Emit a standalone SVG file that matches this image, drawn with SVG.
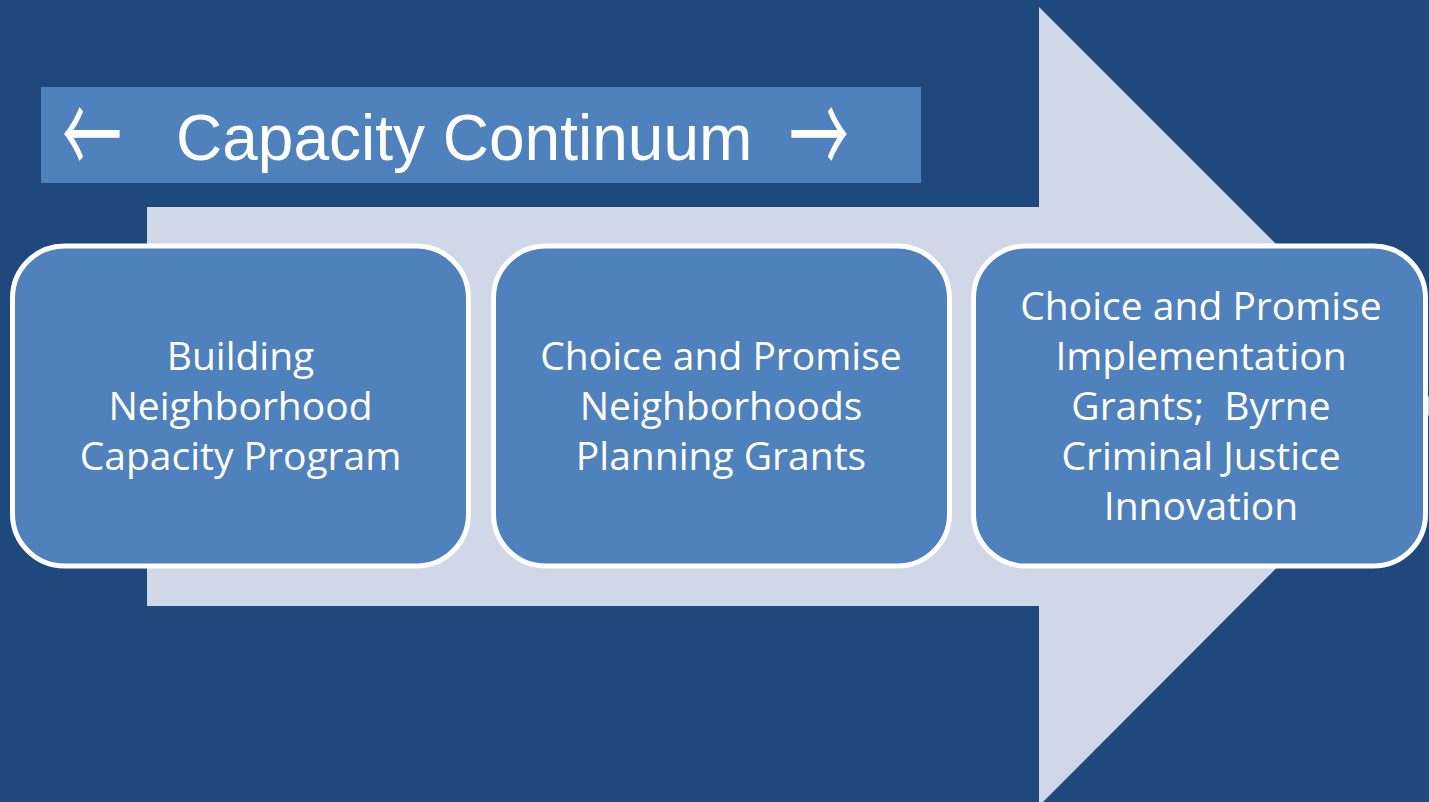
<svg xmlns="http://www.w3.org/2000/svg" width="1429" height="802" viewBox="0 0 1429 802">
<style>
.box{fill:#4F81BD;stroke:#FFFFFF;stroke-width:5}
.lbl{font-family:"Open Sans","Noto Sans",sans-serif;font-size:39px;fill:#FFFFFF;text-anchor:middle;white-space:pre}
.ttl{font-family:"Liberation Sans",Arial,sans-serif;font-size:64px;fill:#FFFFFF}
.arw{font-family:"Noto Sans CJK JP",sans-serif;font-size:60px;fill:#FFFFFF;text-anchor:middle}
</style>
<rect x="0" y="0" width="1429" height="802" fill="#1F497D"/>
<g id="connectors">
<polygon id="big-arrow" points="147,207 1039,207 1039,7 1438,406 1039,806 1039,606 147,606" fill="#D0D8E8"/>
</g>
<g id="title">
<rect x="41" y="87" width="880" height="96" fill="#4F81BD"/>
<g transform="translate(0,135) scale(1,1.9) translate(0,-135)">
<text class="arw" x="92" y="157">←</text>
<text class="arw" x="819" y="157">→</text>
</g>
<text class="ttl" x="176" y="160">Capacity Continuum</text>
</g>
<g id="node1">
<rect class="box" x="12.5" y="246" width="456" height="320" rx="52"/>
<text class="lbl" x="240.5" y="370">Building</text>
<text class="lbl" x="240.5" y="420">Neighborhood</text>
<text class="lbl" x="240.5" y="470">Capacity Program</text>
</g>
<g id="node2">
<rect class="box" x="493.5" y="246" width="456" height="320" rx="52"/>
<text class="lbl" x="721" y="370">Choice and Promise</text>
<text class="lbl" x="721" y="420">Neighborhoods</text>
<text class="lbl" x="721" y="470">Planning Grants</text>
</g>
<g id="node3">
<rect class="box" x="973.5" y="246" width="452" height="320" rx="52"/>
<text class="lbl" x="1201" y="320">Choice and Promise</text>
<text class="lbl" x="1201" y="370">Implementation</text>
<text class="lbl" x="1201" y="420">Grants;  Byrne</text>
<text class="lbl" x="1201" y="470">Criminal Justice</text>
<text class="lbl" x="1201" y="520">Innovation</text>
</g>
</svg>
